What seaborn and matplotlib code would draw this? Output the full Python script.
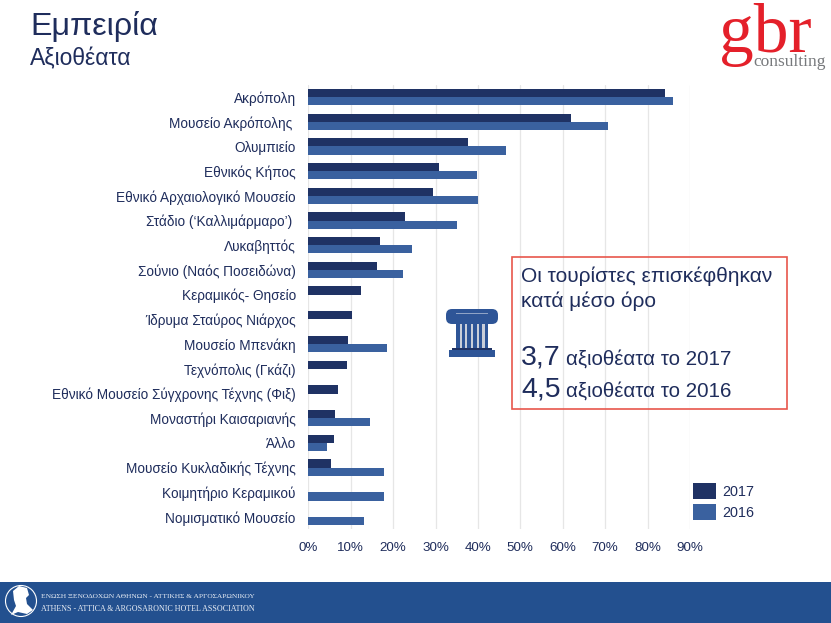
import numpy as np
import pandas as pd
import matplotlib
matplotlib.use("Agg")
import matplotlib.pyplot as plt
from matplotlib.patches import Rectangle, Circle, Ellipse, FancyBboxPatch, Polygon
from matplotlib.transforms import Affine2D
import seaborn as sns

sights = ["Ακρόπολη", "Μουσείο Ακρόπολης ", "Ολυμπιείο", "Εθνικός Κήπος",
          "Εθνικό Αρχαιολογικό Μουσείο", "Στάδιο (‘Καλλιμάρμαρο’) ", "Λυκαβηττός",
          "Σούνιο (Ναός Ποσειδώνα)", "Κεραμικός- Θησείο", "Ίδρυμα Σταύρος Νιάρχος",
          "Μουσείο Μπενάκη", "Τεχνόπολις (Γκάζι)", "Εθνικό Μουσείο Σύγχρονης Τέχνης (Φιξ)",
          "Μοναστήρι Καισαριανής", "Άλλο", "Μουσείο Κυκλαδικής Τέχνης",
          "Κοιμητήριο Κεραμικού", "Νομισματικό Μουσείο"]
values_2017 = [84.2, 61.9, 37.6, 30.9, 29.3, 22.8, 16.8, 16.1, 12.4, 10.2,
               9.4, 9.1, 7.0, 6.3, 6.1, 5.4, np.nan, np.nan]
values_2016 = [86.0, 70.7, 46.6, 39.7, 40.1, 35.0, 24.4, 22.3, np.nan, np.nan,
               18.5, np.nan, np.nan, 14.5, 4.4, 17.8, 17.9, 13.1]
years = ["2017", "2016"]
x_ticks = [0, 10, 20, 30, 40, 50, 60, 70, 80, 90]

NAVY = "#1f3264"
BLUE = "#3a619f"
TEXT = "#1f2d5c"
FOOTER = "#23508f"

sns.set_style("white")
plt.rcParams["font.family"] = ["Liberation Sans", "DejaVu Sans"]

df = pd.DataFrame({"sight": sights * 2,
                   "year": [years[0]] * len(sights) + [years[1]] * len(sights),
                   "value": values_2017 + values_2016})

fig = plt.figure(figsize=(8.31, 6.23), dpi=100, facecolor="white")
# pixel coordinates, origin top left like the reference
px = Affine2D().scale(1, -1).translate(0, 623)

ax = fig.add_axes([308.3 / 831, 1 - 529.4 / 623, (690 - 308.3) / 831, (529.4 - 84.7) / 623])
sns.barplot(data=df, y="sight", x="value", hue="year", hue_order=years,
            palette=[NAVY, BLUE], width=0.664, gap=0, saturation=1, ax=ax,
            errorbar=None, linewidth=0)
ax.set_xlim(0, 90)
ax.set_xticks(x_ticks)
ax.set_xticklabels([f"{t}%" for t in x_ticks], color=TEXT, fontsize=9.6)
ax.tick_params(axis="x", length=0, pad=9)
ax.tick_params(axis="y", length=0, pad=9, labelsize=9.85, labelcolor=TEXT)
ax.set_xlabel("")
ax.set_ylabel("")
ax.grid(axis="x", color="#e6e6e6", lw=0.9)
ax.set_axisbelow(True)
for s in ax.spines.values():
    s.set_visible(False)
ax.legend(loc="upper left", bbox_to_anchor=((690.1 - 308.3) / (690 - 308.3), (529.4 - 480.1) / (529.4 - 84.7)),
          frameon=False, fontsize=10.4, labelcolor=TEXT, handlelength=1.62, handleheight=1.28,
          handletextpad=0.42, labelspacing=0.38, borderpad=0.2, borderaxespad=0)

# title
fig.text(30, 35, "Εμπειρία", transform=px, fontsize=23.2, color=TEXT)
fig.text(30, 65, "Αξιοθέατα", transform=px, fontsize=16.5, color=TEXT)

# logo
fig.text(719, 52, "gbr", transform=px, fontsize=50, color="#e4202a", family="Liberation Serif")
fig.text(753, 66, "consulting", transform=px, fontsize=12.5, color="#77797c", family="Liberation Serif")

# callout box
fig.add_artist(Rectangle((512.3, 257.3), 274.4, 151.4, transform=px, fill=False,
                         edgecolor="#e8564c", lw=1.2))
fig.text(521, 282, "Οι τουρίστες επισκέφθηκαν", transform=px, fontsize=15, color=TEXT)
fig.text(521, 307, "κατά μέσο όρο", transform=px, fontsize=15, color=TEXT)
fig.text(521, 365, "3,7", transform=px, fontsize=20.5, color=TEXT)
fig.text(565.5, 365, "αξιοθέατα το 2017", transform=px, fontsize=14.75, color=TEXT)
fig.text(521, 397, "4,5", transform=px, fontsize=20.5, color=TEXT)
fig.text(565.5, 397, "αξιοθέατα το 2016", transform=px, fontsize=14.75, color=TEXT)

# column icon
ICON = "#2e5597"
fig.add_artist(Rectangle((456, 320), 32, 29, transform=px, facecolor="#c9ced9", edgecolor="none"))
for fx in [456, 461.7, 467.4, 473.1, 478.8, 484.5]:
    fig.add_artist(Rectangle((fx, 320), 3.6, 29, transform=px, facecolor=ICON, edgecolor="none"))
fig.add_artist(FancyBboxPatch((448, 311), 48, 11, boxstyle="round,pad=2,rounding_size=6",
                              transform=px, facecolor=ICON, edgecolor="none"))
fig.add_artist(Rectangle((456, 312.5), 32, 1, transform=px, facecolor="#8fa3c6", edgecolor="none"))
fig.add_artist(Rectangle((452, 347.5), 40, 2.5, transform=px, facecolor=NAVY, edgecolor="none"))
fig.add_artist(Rectangle((449, 350), 46, 7, transform=px, facecolor=ICON, edgecolor="none"))

# footer
fig.add_artist(Rectangle((0, 581.7), 831, 41.3, transform=px, facecolor=FOOTER, edgecolor="none"))
fig.add_artist(Circle((21, 601), 15.5, transform=px, fill=False, edgecolor="white", lw=0.8))
fig.add_artist(Polygon([(13, 591), (19, 586), (27, 588), (29, 595), (26, 598), (27, 604), (33, 610),
                        (27, 614), (18, 612), (11, 615), (16, 606), (14, 600)], transform=px,
                       facecolor="white", edgecolor="none"))
fig.text(41, 598, "ΕΝΩΣΗ ΞΕΝΟΔΟΧΩΝ ΑΘΗΝΩΝ - ΑΤΤΙΚΗΣ & ΑΡΓΟΣΑΡΩΝΙΚΟΥ", transform=px,
         fontsize=5.4, color="#e8edf5", family="Liberation Serif")
fig.text(41, 611, "ATHENS - ATTICA & ARGOSARONIC HOTEL ASSOCIATION", transform=px,
         fontsize=5.8, color="#e8edf5", family="Liberation Serif")

fig.savefig("out.png", dpi=100)
